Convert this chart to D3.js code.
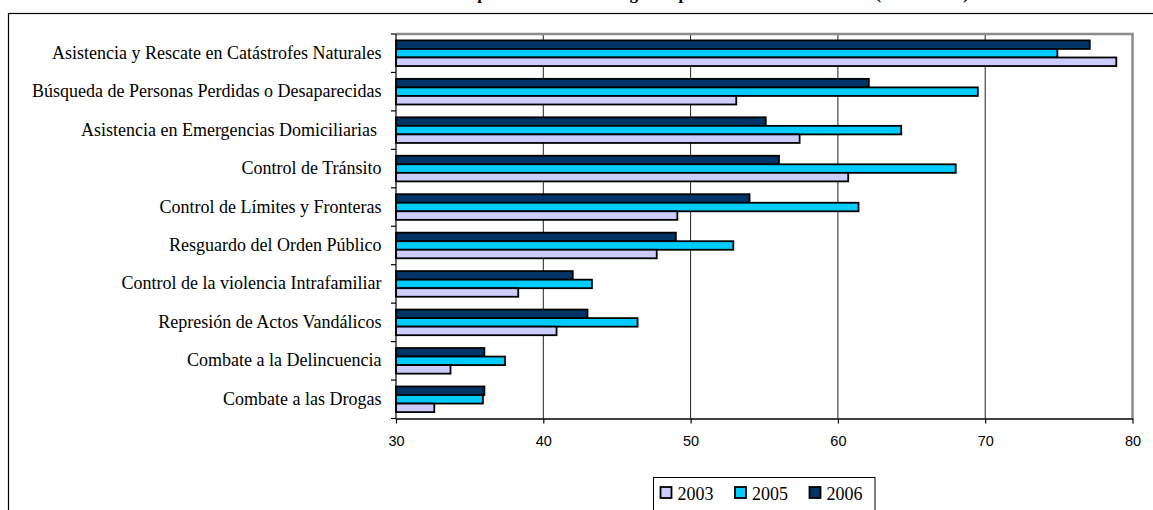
<!DOCTYPE html>
<html>
<head>
<meta charset="utf-8">
<script src="https://cdn.jsdelivr.net/npm/d3@7"></script>
<style>
  html, body { margin: 0; padding: 0; background: #fff; }
  svg { display: block; }
  .cat { white-space: pre; }
</style>
</head>
<body>
<svg id="chart" width="1153" height="510"></svg>
<script>
// Service categories, top to bottom
const categories = [
  "Asistencia y Rescate en Catástrofes Naturales",
  "Búsqueda de Personas Perdidas o Desaparecidas",
  "Asistencia en Emergencias Domiciliarias ",
  "Control de Tránsito",
  "Control de Límites y Fronteras",
  "Resguardo del Orden Público",
  "Control de la violencia Intrafamiliar",
  "Represión de Actos Vandálicos",
  "Combate a la Delincuencia",
  "Combate a las Drogas"
];

// Series values per year, same order as categories
const values2003 = [78.9, 53.1, 57.4, 60.7, 49.1, 47.7, 38.3, 40.9, 33.7, 32.6];
const values2005 = [74.9, 69.5, 64.3, 68.0, 61.4, 52.9, 43.3, 46.4, 37.4, 35.9];
const values2006 = [77.1, 62.1, 55.1, 56.0, 54.0, 49.0, 42.0, 43.0, 36.0, 36.0];

const years = ["2003", "2005", "2006"];
const seriesValues = { "2003": values2003, "2005": values2005, "2006": values2006 };
const xTicks = [30, 40, 50, 60, 70, 80];

const colors = { "2003": "#ccccff", "2005": "#00ccff", "2006": "#003366" };

const titleText = "Evaluación de Funciones de Carabineros: promedio de notas según la población total encuestada (2003 - 2006)";

const svg = d3.select("#chart");

// Outer chart frame
svg.append("rect")
  .attr("x", 8.5).attr("y", 13.5)
  .attr("width", 1160).attr("height", 520)
  .attr("fill", "#fff").attr("stroke", "#000").attr("stroke-width", 1.2);

// Title (sits above the frame, running off the top edge)
svg.append("text")
  .attr("x", 570).attr("y", -1)
  .attr("text-anchor", "middle")
  .attr("font-family", "'Liberation Serif', 'Times New Roman', serif")
  .attr("font-weight", "bold")
  .attr("font-size", 17)
  .text(titleText);

const plot = { left: 396, right: 1132.5, top: 34, bottom: 418.5 };

const x = d3.scaleLinear().domain([30, 80]).range([plot.left, plot.right]);
const y = d3.scaleBand().domain(categories).range([plot.top, plot.bottom]).padding(0);
const barOrder = ["2006", "2005", "2003"];
const yInner = d3.scaleBand().domain(barOrder).range([0, y.bandwidth()])
  .paddingInner(0).paddingOuter(0.75);

// Vertical gridlines
svg.append("g")
  .selectAll("line")
  .data(xTicks.slice(1, -1))
  .join("line")
  .attr("x1", d => x(d)).attr("x2", d => x(d))
  .attr("y1", plot.top).attr("y2", plot.bottom)
  .attr("stroke", "#222").attr("stroke-width", 1);

// Plot area border (top and right, grey)
svg.append("path")
  .attr("d", `M${plot.left},${plot.top}H${plot.right}V${plot.bottom}`)
  .attr("fill", "none").attr("stroke", "#8c8c8c").attr("stroke-width", 2.5);

// Bars
const rows = categories.map((c, i) => ({ cat: c, i }));
const groups = svg.append("g").selectAll("g")
  .data(rows).join("g")
  .attr("transform", d => `translate(0,${y(d.cat)})`);

groups.selectAll("rect")
  .data(d => barOrder.map(yr => ({ yr, v: seriesValues[yr][d.i] })))
  .join("rect")
  .attr("x", x(30))
  .attr("y", d => yInner(d.yr))
  .attr("width", d => x(d.v) - x(30))
  .attr("height", yInner.bandwidth())
  .attr("fill", d => colors[d.yr])
  .attr("stroke", "#000")
  .attr("stroke-width", 1.8);

// Category axis (left)
const yAxis = svg.append("g");
yAxis.append("line")
  .attr("x1", plot.left).attr("x2", plot.left)
  .attr("y1", plot.top).attr("y2", plot.bottom)
  .attr("stroke", "#000").attr("stroke-width", 1.2);
const yTickPos = categories.map(c => y(c)).concat([plot.bottom]);
yAxis.selectAll("line.tick")
  .data(yTickPos).join("line")
  .attr("class", "tick")
  .attr("x1", plot.left - 5).attr("x2", plot.left)
  .attr("y1", d => d).attr("y2", d => d)
  .attr("stroke", "#000").attr("stroke-width", 1.2);
yAxis.selectAll("text")
  .data(categories).join("text")
  .attr("class", "cat")
  .attr("x", 381.5)
  .attr("y", d => y(d) + y.bandwidth() / 2 + 5.5)
  .attr("text-anchor", "end")
  .attr("font-family", "'Liberation Serif', 'Times New Roman', serif")
  .attr("font-size", 18)
  .attr("fill", "#000")
  .text(d => d);

// Value axis (bottom)
const xAxis = d3.axisBottom(x).tickValues(xTicks).tickSize(5).tickSizeOuter(0).tickPadding(12);
const gx = svg.append("g")
  .attr("transform", `translate(0,${plot.bottom})`)
  .call(xAxis);
gx.select(".domain").attr("stroke", "#000").attr("stroke-width", 1.5);
gx.selectAll(".tick line").attr("stroke", "#000").attr("stroke-width", 1.2);
gx.selectAll(".tick text")
  .attr("font-family", "'Liberation Sans', Arial, sans-serif")
  .attr("font-size", 14.5)
  .attr("fill", "#000");

// Legend
const legend = svg.append("g");
legend.append("rect")
  .attr("x", 653.5).attr("y", 477.5)
  .attr("width", 221.5).attr("height", 40)
  .attr("fill", "#fff").attr("stroke", "#000").attr("stroke-width", 1);
const legItems = legend.selectAll("g")
  .data(years).join("g")
  .attr("transform", (d, i) => `translate(${660.5 + i * 74.5},0)`);
legItems.append("rect")
  .attr("x", 0).attr("y", 487)
  .attr("width", 11).attr("height", 11)
  .attr("fill", d => colors[d])
  .attr("stroke", "#000").attr("stroke-width", 1.8);
legItems.append("text")
  .attr("x", 17).attr("y", 500)
  .attr("font-family", "'Liberation Serif', 'Times New Roman', serif")
  .attr("font-size", 18)
  .attr("fill", "#000")
  .text(d => d);
</script>
</body>
</html>
